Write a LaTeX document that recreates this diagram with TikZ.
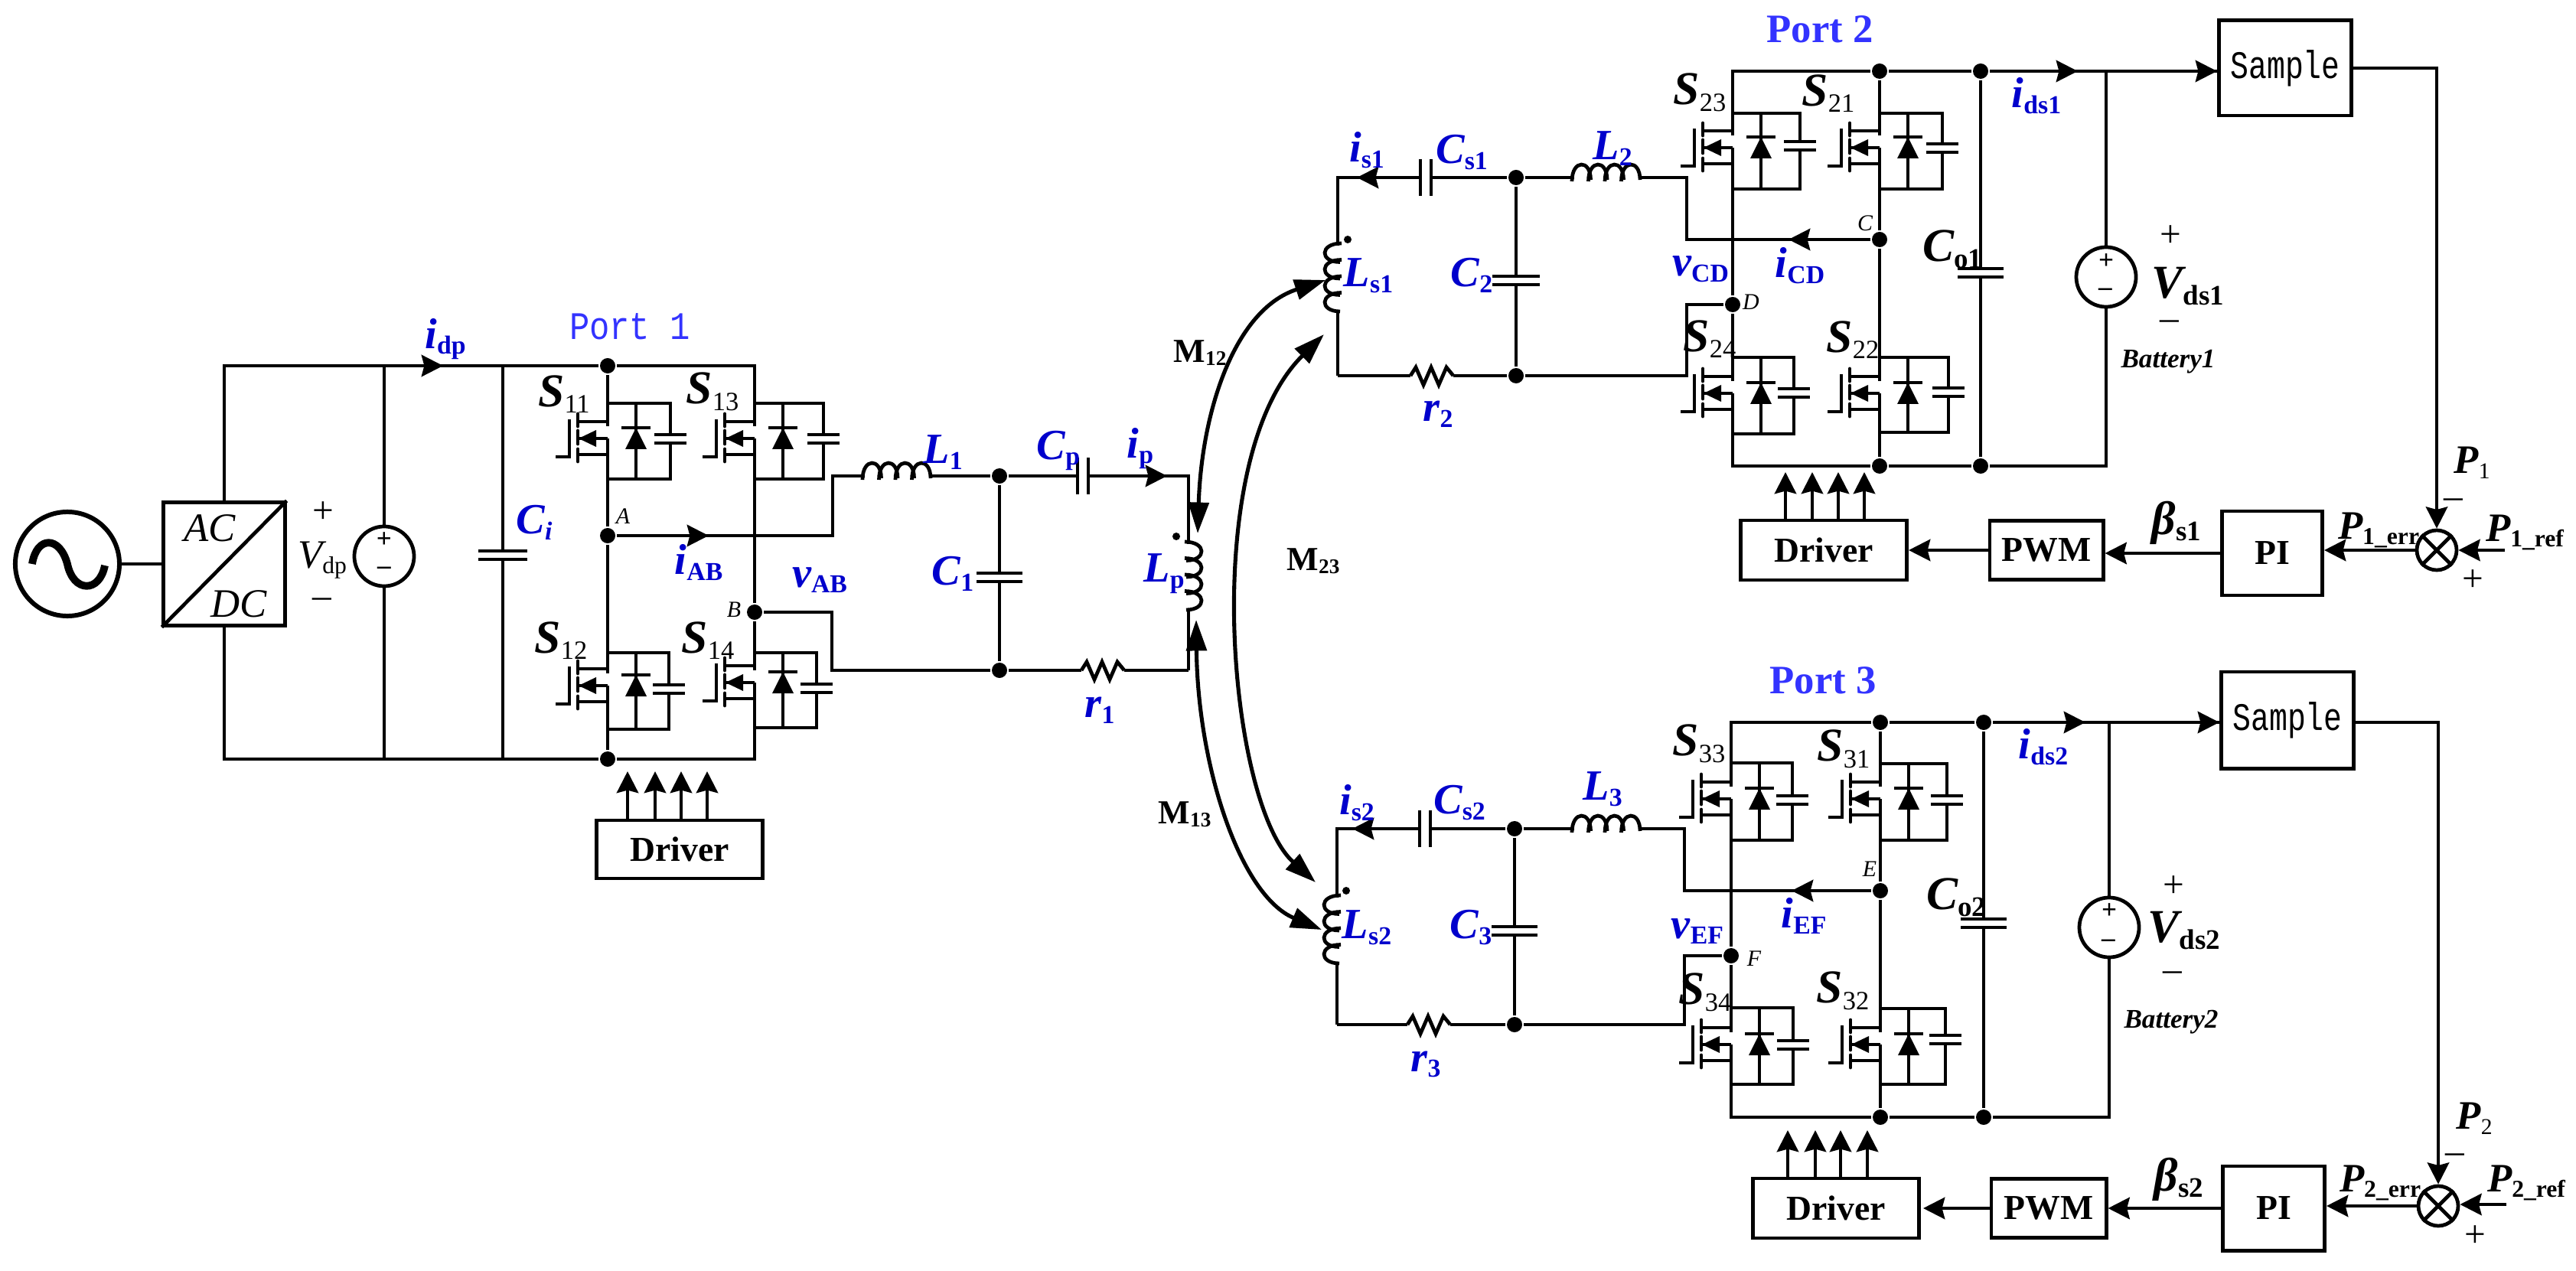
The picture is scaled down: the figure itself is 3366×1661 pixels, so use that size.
\documentclass[tikz,border=0pt]{standalone}
\usepackage{fontspec}
\usepackage{graphicx}
\setmainfont{Liberation Serif}
\newfontfamily\monofont{Liberation Mono}
\usetikzlibrary{arrows.meta}

\definecolor{labelblue}{RGB}{0,0,204}
\definecolor{portblue}{RGB}{51,51,255}

% letter with subscript
\newcommand{\lsub}[2]{{\bfseries\itshape #1}\raisebox{-.3ex}{\scalebox{.6}{\bfseries\upshape #2}}}
\newcommand{\lsubr}[2]{{\bfseries\itshape #1}\raisebox{-.3ex}{\scalebox{.56}{\upshape #2}}}

\tikzset{
  dot/.style={circle,fill=black,inner sep=0pt,minimum size=.2cm},
  block/.style={draw,line width=1.4pt,inner sep=0pt,font=\fontsize{13}{13}\selectfont\bfseries},
  source/.style={circle,draw,inner sep=0pt,minimum size=.78cm},
  srclab/.style={inner sep=0pt,font=\fontsize{10}{10}\selectfont\bfseries},
  swlab/.style={font=\fontsize{17.5}{17.5}\selectfont},
  valab/.style={text=labelblue,font=\fontsize{16}{16}\selectfont},
  blab/.style={font=\fontsize{15}{15}\selectfont},
  pointlab/.style={font=\fontsize{8.5}{8.5}\selectfont\itshape},
  mutlab/.style={font=\fontsize{12.5}{12.5}\selectfont},
  signlab/.style={font=\fontsize{14}{14}\selectfont},
  batlab/.style={font=\fontsize{10}{10}\selectfont\bfseries\itshape},
  portlab/.style={text=portblue,font=\fontsize{15}{15}\selectfont\bfseries},
  monolab/.style={font=\monofont\fontsize{14.5}{14.5}\selectfont}
}

% name, leg x, top y, bottom y, gate mid y, capacitor x, first plate y
\newcommand{\switchcell}[7]{%
  \coordinate (#1t) at (#2,#3);
  \coordinate (#1b) at (#2,#4);
  \draw (#1t) -- (#2,#5-16);
  \draw (#2,#5) -- (#1b);
  \draw (#2,#5-22) -- (#2-39,#5-22);
  \draw (#2,#5) -- (#2-39,#5);
  \draw (#2,#5+21) -- (#2-39,#5+21);
  \draw[line cap=round] (#2-39,#5-32) -- (#2-39,#5-16);
  \draw[line cap=round] (#2-39,#5-10) -- (#2-39,#5+7);
  \draw[line cap=round] (#2-39,#5+14) -- (#2-39,#5+30);
  \draw (#2-68,#5+24) -- (#2-50,#5+24) -- (#2-50,#5-25);
  \fill (#2-38,#5) -- (#2-15,#5-11) -- (#2-15,#5+11) -- cycle;
  % capacitor
  \draw (#1t) -| (#6,#7);
  \draw (#6,#7+11) |- (#1b);
  \draw (#6-21,#7) -- (#6+21,#7);
  \draw (#6-21,#7+11) -- (#6+21,#7+11);
  % diode
  \draw (#2+37,#3) -- (#2+37,#4);
  \draw (#2+18,#5-14) -- (#2+56,#5-14);
  \fill (#2+37,#5-14) -- (#2+23,#5+14) -- (#2+51,#5+14) -- cycle;
}

% name, x, first plate y, half width
\newcommand{\capv}[4]{%
  \coordinate (#1t) at (#2,#3);
  \coordinate (#1b) at (#2,#3+11);
  \draw (#2-#4,#3) -- (#2+#4,#3);
  \draw (#2-#4,#3+11) -- (#2+#4,#3+11);
}

% name, x of first plate, x of second plate, y
\newcommand{\caph}[4]{%
  \coordinate (#1l) at (#2,#4);
  \coordinate (#1r) at (#3,#4);
  \draw (#2,#4-24) -- (#2,#4+24);
  \draw (#3,#4-24) -- (#3,#4+24);
}

% x, y, transformation
\newcommand{\coil}[3]{%
  \begin{scope}[shift={(#1,#2)},#3]
    \foreach \i in {0,...,3}
      \draw (\i*21.5-3,5) .. controls (\i*21.5-3,-24) and (\i*21.5+21.5,-24) .. (\i*21.5+21.5,3);
  \end{scope}
}

% x, y
\newcommand{\zigzag}[2]{%
  \draw (#1,#2) -- ++(7,-11) -- ++(10,23) -- ++(10,-23) -- ++(10,23) -- ++(10,-23) -- ++(9,11);
}

\begin{document}
\begin{tikzpicture}[x=0.01cm, y=-0.01cm, line width=1.35pt,
  >={Stealth[length=8pt,width=8pt,inset=1pt]}]

  \useasboundingbox (0,0) rectangle (3366,1661);

  % Input side
  \node[source, minimum size=1.36cm, line width=1.7pt] (acsrc) at (88,737) {};
  \draw[line width=2.8pt] (42,737) .. controls (48,700) and (78,700) .. (88,737) .. controls (96,775) and (130,775) .. (137,739);
  \node[block, minimum width=1.58cm, minimum height=1.6cm] (acdc) at (293,737) {};
  \draw (acdc.north east) -- (acdc.south west);
  \node[font=\fontsize{15}{15}\selectfont\itshape] (acl) at (274,690) {AC};
  \node[font=\fontsize{15}{15}\selectfont\itshape] (dcl) at (312,789) {DC};
  \draw (acsrc.east) -- (acdc.west);

  \node[dot] (n1top) at (794,478) {};
  \node[dot] (n1bot) at (794,992) {};
  \node[dot] (nA) at (794,700) {};
  \node[dot] (nB) at (986,800) {};

  \draw (acdc.north) |- (n1top);
  \draw (acdc.south) |- (n1bot);

  \node[source] (psrc) at (502,727) {};
  \draw (psrc.north) -- (psrc.north |- n1top);
  \draw (psrc.south) -- (psrc.south |- n1bot);
  \node[srclab] (psrcp) at (502,706) {+};
  \node[srclab] (psrcm) at (502,746) {--};
  \coordinate (idptip) at (579,478);
  \draw[->] (psrc.north |- n1top) -- (idptip);

  \capv{ci}{657}{720}{32}
  \draw (cit |- n1top) -- (cit);
  \draw (cib) -- (cib |- n1bot);

  % Bridge of port 1
  \switchcell{s11}{794}{527}{626}{573}{876}{568}
  \switchcell{s13}{986}{527}{626}{573}{1076}{568}
  \switchcell{s12}{794}{853}{953}{896}{874}{895}
  \switchcell{s14}{986}{853}{951}{892}{1067}{894}

  \draw (n1top) -- (s11t);
  \draw (s11b) -- (nA) -- (s12t);
  \draw (s12b) -- (n1bot);
  \draw (n1top) -| (s13t);
  \draw (s13b) -- (nB) -- (s14t);
  \draw (n1bot) -| (s14b);

  % Resonant tank of port 1
  \node[dot] (n1c1t) at (1306,622) {};
  \node[dot] (n1c1b) at (1306,876) {};
  \coordinate (wA) at (1088,622);
  \coordinate (wB) at (1087,876);
  \coordinate (l1in) at (1130,622);
  \coordinate (l1out) at (1217,622);
  \coordinate (iABtip) at (926,700);
  \draw (nA) -| (wA) -- (l1in);
  \draw[->] (nA) -- (iABtip);
  \draw (nB) -| (wB) -- (n1c1b);
  \coil{1130}{622}{}
  \draw (l1out) -- (n1c1t);
  \capv{c1}{1306}{749}{30}
  \draw (n1c1t) -- (c1t);
  \draw (c1b) -- (n1c1b);
  \caph{cp}{1408}{1422}{622}
  \draw (n1c1t) -- (cpl);
  \coordinate (lpcorner) at (1553,622);
  \coordinate (lpin) at (1553,711);
  \coordinate (lpout) at (1553,797);
  \coordinate (lpbot) at (1553,876);
  \coordinate (iptip) at (1525,622);
  \draw (cpr) -- (lpcorner) -- (lpin);
  \draw[->] (cpr) -- (iptip);
  \coil{1553}{711}{rotate=-90}
  \fill (1537,701) circle (.05cm);
  \draw (lpout) -- (lpbot);
  \coordinate (r1in) at (1413,876);
  \coordinate (r1out) at (1469,876);
  \draw (n1c1b) -- (r1in);
  \zigzag{1413}{876}
  \draw (r1out) -- (lpbot);

  % Labels of port 1
  \node[text=portblue, monolab] (port1) at (823,427) {\scalebox{.86}[1]{Port 1}};
  \node[valab] (lidp) at (582,443) {\lsub{i}{dp}};
  \node[signlab] (vpp) at (422,670) {+};
  \node[font=\fontsize{15}{15}\selectfont] (vdp) at (421,732) {{\itshape V}\raisebox{-.3ex}{\scalebox{.6}{dp}}};
  \node[signlab] (vpm) at (421,788) {--};
  \node[valab] (lci) at (698,683) {\lsub{C}{\itshape i}};
  \node[swlab] (ls11) at (737,515) {\lsubr{S}{11}};
  \node[swlab] (ls13) at (931,512) {\lsubr{S}{13}};
  \node[swlab] (ls12) at (733,837) {\lsubr{S}{12}};
  \node[swlab] (ls14) at (925,837) {\lsubr{S}{14}};
  \node[pointlab] (lA) at (814,675) {A};
  \node[pointlab] (lB) at (959,797) {B};
  \node[valab] (liAB) at (913,735) {\lsub{i}{AB}};
  \node[valab] (lvAB) at (1071,758) {\lsub{v}{AB}};
  \node[valab] (lL1) at (1232,591) {\lsub{L}{1}};
  \node[valab] (lCp) at (1383,589) {\lsub{C}{p}};
  \node[valab] (lip) at (1490,586) {\lsub{i}{p}};
  \node[valab] (lC1) at (1245,750) {\lsub{C}{1}};
  \node[valab] (lLp) at (1521,750) {\lsub{L}{p}};
  \node[valab] (lr1) at (1437,928) {\lsub{r}{1}};

  % Driver of port 1
  \node[block, minimum width=2.16cm, minimum height=.76cm] (drv1) at (888,1110) {Driver};
  \foreach \x/\n in {820/a,856/b,890/c,924/d} {
    \coordinate (drv1\n) at (\x,1008);
    \draw[->] (drv1.north -| drv1\n) -- (drv1\n);
  }

  % Port 2
  \node[dot] (n2top) at (2456,93) {};
  \node[dot] (n2bot) at (2456,609) {};
  \node[dot] (nO1) at (2588,93) {};
  \node[dot] (nO1b) at (2588,609) {};
  \node[dot] (nC) at (2456,313) {};
  \node[dot] (nD) at (2264,398) {};

  \switchcell{s23}{2264}{148}{247}{193}{2352}{185}
  \switchcell{s21}{2456}{148}{247}{193}{2538}{188}
  \switchcell{s24}{2264}{467}{567}{514}{2344}{508}
  \switchcell{s22}{2456}{467}{565}{514}{2546}{507}

  \draw (n2top) -- (s21t);
  \draw (s21b) -- (nC) -- (s22t);
  \draw (s22b) -- (n2bot);
  \draw (n2top) -| (s23t);
  \draw (s23b) -- (nD) -- (s24t);
  \draw (n2bot) -| (s24b);
  \draw (n2top) -- (nO1);
  \draw (n2bot) -- (nO1b);

  \capv{co1}{2588}{351}{30}
  \draw (nO1) -- (co1t);
  \draw (co1b) -- (nO1b);

  % Resonant tank of port 2
  \node[dot] (n2c2t) at (1981,232) {};
  \node[dot] (n2c2b) at (1981,491) {};
  \coordinate (wC) at (2204,232);
  \coordinate (wD) at (2204,491);
  \coordinate (l2in) at (2057,232);
  \coordinate (l2out) at (2143,232);
  \coordinate (iCDtip) at (2337,313);
  \draw (nC) -| (wC) -- (l2out);
  \draw[->] (nC) -- (iCDtip);
  \draw (nD) -| (wD) -- (n2c2b);
  \coil{2057}{232}{}
  \draw (n2c2t) -- (l2in);
  \capv{c2}{1981}{361}{31}
  \draw (n2c2t) -- (c2t);
  \draw (c2b) -- (n2c2b);
  \caph{cs1}{1856}{1870}{232}
  \draw (n2c2t) -- (cs1r);
  \coordinate (ls1corner) at (1748,232);
  \coordinate (ls1in) at (1748,321);
  \coordinate (ls1out) at (1748,407);
  \coordinate (ls1bot) at (1748,491);
  \coordinate (is1tip) at (1773,232);
  \draw (cs1l) -- (ls1corner) -- (ls1in);
  \draw[->] (cs1l) -- (is1tip);
  \coil{1748}{321}{rotate=-90,yscale=-1}
  \fill (1761,313) circle (.05cm);
  \draw (ls1out) -- (ls1bot);
  \coordinate (r2in) at (1843,491);
  \coordinate (r2out) at (1899,491);
  \draw (ls1bot) -- (r2in);
  \zigzag{1843}{491}
  \draw (r2out) -- (n2c2b);

  % Output and control of port 2
  \node[source] (bat1) at (2752,362) {};
  \draw (bat1.north) -- (bat1.north |- nO1);
  \draw (bat1.south) |- (nO1b);
  \node[srclab] (bat1p) at (2752,342) {+};
  \node[srclab] (bat1m) at (2751,382) {--};

  \node[block, font=\monofont\fontsize{14.5}{14.5}\selectfont\mdseries, minimum width=1.73cm, minimum height=1.24cm] (sample1) at (2986,89) {\scalebox{.78}[1]{Sample}};
  \node[block, minimum width=1.31cm, minimum height=1.1cm] (pi1) at (2969,723) {PI};
  \node[block, minimum width=1.48cm, minimum height=.77cm] (pwm1) at (2674,719) {PWM};
  \node[block, minimum width=2.17cm, minimum height=.78cm] (drv2) at (2383,719) {Driver};
  \node[circle, draw, inner sep=0pt, minimum size=.52cm] (sum1) at (3184,719) {};
  \draw (sum1.45) -- (sum1.225);
  \draw (sum1.135) -- (sum1.315);
  \coordinate (ids1tip) at (2715,93);
  \coordinate (p1ref) at (3273,719);
  \draw (nO1) -- (nO1 -| sample1.west);
  \draw[->] (nO1) -- (ids1tip);
  \draw[->] (bat1.north |- nO1) -- (nO1 -| sample1.west);
  \draw[->] (sample1.east) -| (sum1.north);
  \draw[->] (p1ref) -- (sum1.east);
  \draw[->] (sum1.west) -- (pi1.east |- sum1.west);
  \draw[->] (pi1.west) -- (pwm1.east |- pi1.west);
  \draw[->] (pwm1.west) -- (drv2.east);
  \foreach \x/\n in {2333/a,2368/b,2402/c,2436/d} {
    \coordinate (drv2\n) at (\x,617);
    \draw[->] (drv2.north -| drv2\n) -- (drv2\n);
  }

  % Labels of port 2
  \node[portlab] (port2) at (2378,38) {Port 2};
  \node[valab] (lis1) at (1786,196) {\lsub{i}{s1}};
  \node[valab] (lCs1) at (1910,199) {\lsub{C}{s1}};
  \node[valab] (lL2) at (2107,194) {\lsub{L}{2}};
  \node[valab] (lLs1) at (1788,360) {\lsub{L}{s1}};
  \node[valab] (lC2) at (1923,360) {\lsub{C}{2}};
  \node[valab] (lr2) at (1879,541) {\lsub{r}{2}};
  \node[valab] (lvCD) at (2222,352) {\lsub{v}{CD}};
  \node[valab] (liCD) at (2352,347) {\lsub{i}{CD}};
  \node[swlab] (lCo1) at (2551,326) {\lsub{C}{o1}};
  \node[pointlab] (lC) at (2437,292) {C};
  \node[pointlab] (lD) at (2288,395) {D};
  \node[swlab] (ls23) at (2221,121) {\lsubr{S}{23}};
  \node[swlab] (ls21) at (2389,122) {\lsubr{S}{21}};
  \node[swlab] (ls24) at (2234,443) {\lsubr{S}{24}};
  \node[swlab] (ls22) at (2421,444) {\lsubr{S}{22}};
  \node[valab] (lids1) at (2661,125) {\lsub{i}{ds1}};
  \node[signlab] (vs1p) at (2836,309) {+};
  \node[swlab] (vds1) at (2859,374) {\lsub{V}{ds1}};
  \node[signlab] (vs1m) at (2835,425) {--};
  \node[batlab] (lbat1) at (2833,473) {Battery1};
  \node[blab] (lP1) at (3230,605) {\lsubr{P}{1}};
  \node[signlab] (sum1m) at (3206,658) {--};
  \node[blab] (lP1ref) at (3299,696) {\lsub{P}{1\_ref}};
  \node[blab] (lP1err) at (3108,693) {\lsub{P}{1\_err}};
  \node[signlab] (sum1p) at (3231,759) {+};
  \node[swlab] (lb1) at (2844,683) {\lsub{β}{s1}};

  % Port 3
  \node[dot] (n3top) at (2457,944) {};
  \node[dot] (n3bot) at (2457,1460) {};
  \node[dot] (nO2) at (2592,944) {};
  \node[dot] (nO2b) at (2592,1460) {};
  \node[dot] (nE) at (2457,1164) {};
  \node[dot] (nF) at (2262,1249) {};

  \switchcell{s33}{2262}{997}{1098}{1044}{2342}{1040}
  \switchcell{s31}{2457}{998}{1098}{1044}{2544}{1040}
  \switchcell{s34}{2262}{1317}{1417}{1365}{2343}{1360}
  \switchcell{s32}{2457}{1318}{1417}{1365}{2542}{1353}

  \draw (n3top) -- (s31t);
  \draw (s31b) -- (nE) -- (s32t);
  \draw (s32b) -- (n3bot);
  \draw (n3top) -| (s33t);
  \draw (s33b) -- (nF) -- (s34t);
  \draw (n3bot) -| (s34b);
  \draw (n3top) -- (nO2);
  \draw (n3bot) -- (nO2b);

  \capv{co2}{2592}{1201}{30}
  \draw (nO2) -- (co2t);
  \draw (co2b) -- (nO2b);

  % Resonant tank of port 3
  \node[dot] (n3c3t) at (1979,1083) {};
  \node[dot] (n3c3b) at (1979,1339) {};
  \coordinate (wE) at (2201,1083);
  \coordinate (wF) at (2201,1339);
  \coordinate (l3in) at (2057,1083);
  \coordinate (l3out) at (2143,1083);
  \coordinate (iEFtip) at (2341,1164);
  \draw (nE) -| (wE) -- (l3out);
  \draw[->] (nE) -- (iEFtip);
  \draw (nF) -| (wF) -- (n3c3b);
  \coil{2057}{1083}{}
  \draw (n3c3t) -- (l3in);
  \capv{c3}{1979}{1211}{30}
  \draw (n3c3t) -- (c3t);
  \draw (c3b) -- (n3c3b);
  \caph{cs2}{1855}{1869}{1083}
  \draw (n3c3t) -- (cs2r);
  \coordinate (ls2corner) at (1747,1083);
  \coordinate (ls2in) at (1747,1173);
  \coordinate (ls2out) at (1747,1259);
  \coordinate (ls2bot) at (1747,1339);
  \coordinate (is2tip) at (1767,1083);
  \draw (cs2l) -- (ls2corner) -- (ls2in);
  \draw[->] (cs2l) -- (is2tip);
  \coil{1747}{1173}{rotate=-90,yscale=-1}
  \fill (1759,1164) circle (.05cm);
  \draw (ls2out) -- (ls2bot);
  \coordinate (r3in) at (1839,1339);
  \coordinate (r3out) at (1895,1339);
  \draw (ls2bot) -- (r3in);
  \zigzag{1839}{1339}
  \draw (r3out) -- (n3c3b);

  % Output and control of port 3
  \node[source] (bat2) at (2756,1212) {};
  \draw (bat2.north) -- (bat2.north |- nO2);
  \draw (bat2.south) |- (nO2b);
  \node[srclab] (bat2p) at (2756,1191) {+};
  \node[srclab] (bat2m) at (2755,1233) {--};

  \node[block, font=\monofont\fontsize{14.5}{14.5}\selectfont\mdseries, minimum width=1.73cm, minimum height=1.26cm] (sample2) at (2989,941) {\scalebox{.78}[1]{Sample}};
  \node[block, minimum width=1.33cm, minimum height=1.1cm] (pi2) at (2971,1579) {PI};
  \node[block, minimum width=1.5cm, minimum height=.77cm] (pwm2) at (2677,1579) {PWM};
  \node[block, minimum width=2.17cm, minimum height=.78cm] (drv3) at (2399,1579) {Driver};
  \node[circle, draw, inner sep=0pt, minimum size=.52cm] (sum2) at (3186,1576) {};
  \draw (sum2.45) -- (sum2.225);
  \draw (sum2.135) -- (sum2.315);
  \coordinate (ids2tip) at (2725,944);
  \coordinate (p2ref) at (3275,1574);
  \draw (nO2) -- (nO2 -| sample2.west);
  \draw[->] (nO2) -- (ids2tip);
  \draw[->] (bat2.north |- nO2) -- (nO2 -| sample2.west);
  \draw[->] (nO2 -| sample2.east) -| (sum2.north);
  \draw[->] (p2ref) -- (sum2.east |- p2ref);
  \draw[->] (sum2.west) -- (pi2.east |- sum2.west);
  \draw[->] (pi2.west) -- (pwm2.east);
  \coordinate (drv3tip) at (2513,1579);
  \draw[->] (pwm2.west) -- (drv3tip);
  \foreach \x/\n in {2336/a,2372/b,2405/c,2440/d} {
    \coordinate (drv3\n) at (\x,1477);
    \draw[->] (drv3.north -| drv3\n) -- (drv3\n);
  }

  % Labels of port 3
  \node[portlab] (port3) at (2382,889) {Port 3};
  \node[valab] (lis2) at (1773,1049) {\lsub{i}{s2}};
  \node[valab] (lCs2) at (1907,1049) {\lsub{C}{s2}};
  \node[valab] (lL3) at (2094,1031) {\lsub{L}{3}};
  \node[valab] (lLs2) at (1786,1212) {\lsub{L}{s2}};
  \node[valab] (lC3) at (1922,1212) {\lsub{C}{3}};
  \node[valab] (lr3) at (1863,1391) {\lsub{r}{3}};
  \node[valab] (lvEF) at (2218,1217) {\lsub{v}{EF}};
  \node[valab] (liEF) at (2357,1197) {\lsub{i}{EF}};
  \node[swlab] (lCo2) at (2556,1173) {\lsub{C}{o2}};
  \node[pointlab] (lE) at (2443,1136) {E};
  \node[pointlab] (lF) at (2292,1253) {F};
  \node[swlab] (ls33) at (2220,972) {\lsubr{S}{33}};
  \node[swlab] (ls31) at (2409,979) {\lsubr{S}{31}};
  \node[swlab] (ls34) at (2228,1297) {\lsubr{S}{34}};
  \node[swlab] (ls32) at (2408,1295) {\lsubr{S}{32}};
  \node[valab] (lids2) at (2670,976) {\lsub{i}{ds2}};
  \node[signlab] (vs2p) at (2840,1159) {+};
  \node[swlab] (vds2) at (2854,1216) {\lsub{V}{ds2}};
  \node[signlab] (vs2m) at (2839,1276) {--};
  \node[batlab] (lbat2) at (2837,1336) {Battery2};
  \node[blab] (lP2) at (3233,1462) {\lsubr{P}{2}};
  \node[signlab] (sum2m) at (3208,1514) {--};
  \node[blab] (lP2ref) at (3301,1546) {\lsub{P}{2\_ref}};
  \node[blab] (lP2err) at (3110,1546) {\lsub{P}{2\_err}};
  \node[signlab] (sum2p) at (3234,1616) {+};
  \node[swlab] (lb2) at (2847,1541) {\lsub{β}{s2}};

  % Mutual couplings
  \coordinate (m12a) at (1565,697);
  \coordinate (m12b) at (1732,366);
  \coordinate (m13a) at (1563,810);
  \coordinate (m13b) at (1727,1215);
  \coordinate (m23a) at (1730,437);
  \coordinate (m23b) at (1719,1153);
  \begin{scope}[>={Triangle[length=11.5pt,width=7.5pt]}, line width=1.45pt]
    \draw[<->] (m12a) .. controls (1570,540) and (1612,405) .. (m12b);
    \draw[<->] (m13a) .. controls (1565,1000) and (1620,1170) .. (m13b);
    \draw[<->] (m23a) .. controls (1565,600) and (1605,1050) .. (m23b);
  \end{scope}
  \node[mutlab] (lm12) at (1568,461) {\textbf{M}\raisebox{-.2ex}{\scalebox{.62}{\textbf{12}}}};
  \node[mutlab] (lm23) at (1716,733) {\textbf{M}\raisebox{-.2ex}{\scalebox{.62}{\textbf{23}}}};
  \node[mutlab] (lm13) at (1548,1064) {\textbf{M}\raisebox{-.2ex}{\scalebox{.62}{\textbf{13}}}};

\end{tikzpicture}
\end{document}
